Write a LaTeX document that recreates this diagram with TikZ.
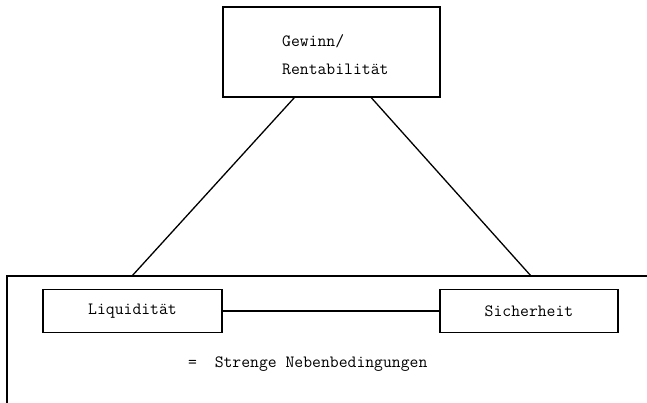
\documentclass[tikz,border=0pt]{standalone}
\usepackage{fontspec}
\begin{document}
\begin{tikzpicture}[x=1pt,y=-1pt,
  every node/.style={font=\ttfamily\fontsize{17.2}{20}\selectfont},
  boxstyle/.style={draw,line width=1.4pt,inner sep=0pt},
  con/.style={line width=1.3pt}]
\useasboundingbox (0,0) rectangle (647,403);
% boxes
\node[boxstyle,minimum width=217pt,minimum height=90pt] (top) at (331.5,52) {};
\node[anchor=base west,inner sep=0pt] (t1) at (282,47) {Gewinn/};
\node[anchor=base west,inner sep=0pt] (t2) at (282,75) {Rentabilität};
\node[boxstyle,minimum width=179pt,minimum height=43pt] (liq) at (132.5,311) {Liquidität};
\node[boxstyle,minimum width=178pt,minimum height=43pt] (sich) at (529,311) {Sicherheit};
% frame
\coordinate (fl) at (7,403);
\coordinate (ftl) at (7,276);
\coordinate (ftr) at (647,276);
\coordinate (a1) at (132,276);
\coordinate (a2) at (531,276);
\draw[con] (fl) -- (ftl) -- (ftr);
% connectors
\path (top.south west) ++(72,0) coordinate (b1);
\path (top.south west) ++(149,0) coordinate (b2);
\draw[con] (b1) -- (a1);
\draw[con] (b2) -- (a2);
\draw[con] (liq.east) -- (sich.west);
\node[anchor=base west,inner sep=0pt] (leg) at (188,367) {=\ \ Strenge Nebenbedingungen};
\end{tikzpicture}
\end{document}
